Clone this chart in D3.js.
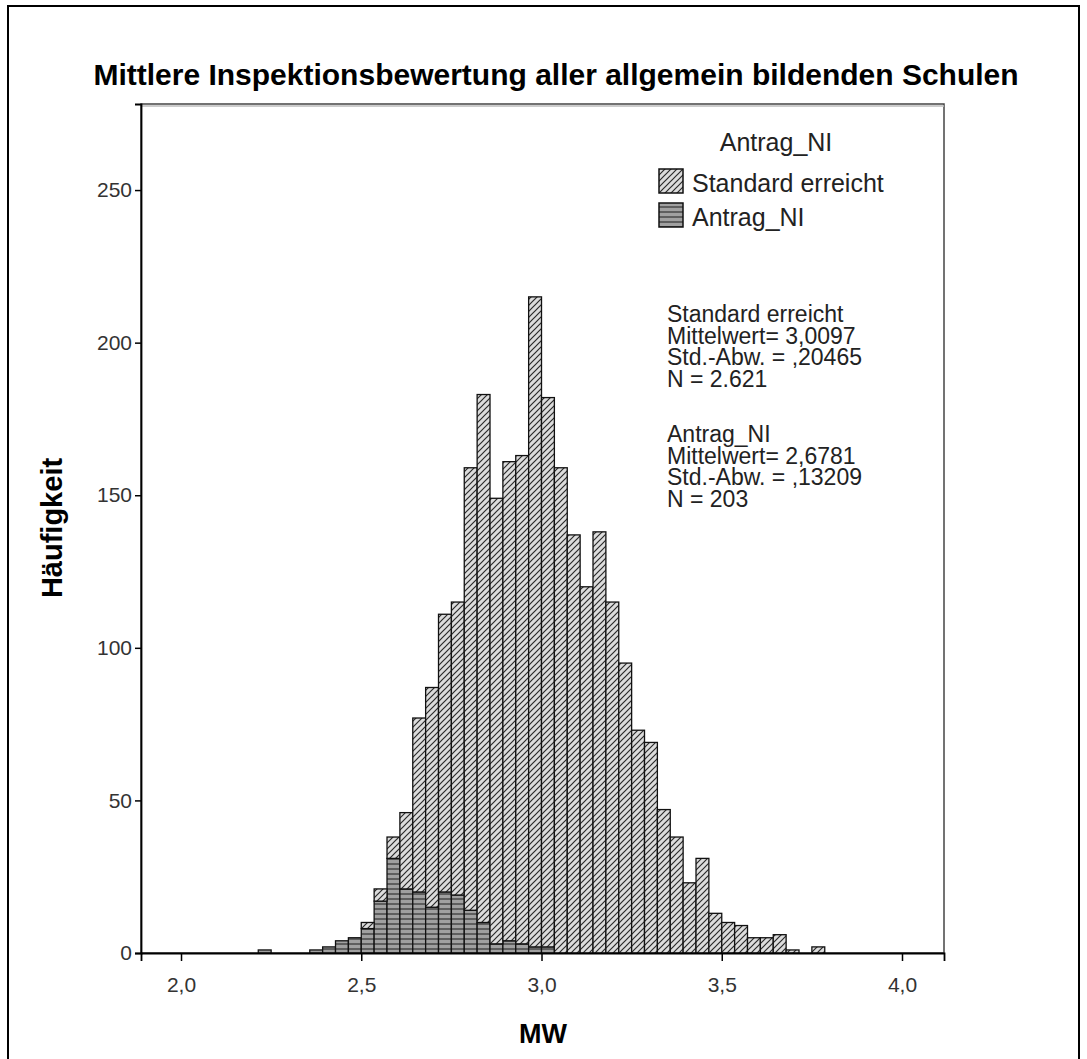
<!DOCTYPE html>
<html lang="de">
<head>
	<meta charset="utf-8">
	<title>Mittlere Inspektionsbewertung</title>
	<script src="https://d3js.org/d3.v7.min.js"></script>
	<style>
		body { margin: 0; background: #fff; }
		text { font-family: "Liberation Sans", Arial, sans-serif; }
	</style>
</head>
<body>
	<script>
		var w = 1087;
		var h = 1059;

		// bins: width 1/28, first bin starts at 2.5 - 8/28
		var binWidth = 1 / 28;
		var binFirst = 2.5 - 8 / 28;

		// counts per bin (stacked: Antrag_NI at bottom, Standard erreicht on top)
		var antragNI = [1, 0, 0, 0, 1, 2, 4, 5, 8, 17, 31, 21, 20, 15, 20, 19, 14, 10, 3, 4, 3, 2, 2, 0,
			0, 0, 0, 0, 0, 0, 0, 0, 0, 0, 0, 0, 0, 0, 0, 0, 0, 0, 0, 0];
		var standard = [0, 0, 0, 0, 0, 0, 0, 0, 2, 4, 7, 25, 57, 72, 91, 96, 145, 173, 146, 157, 160, 213, 180, 159,
			137, 120, 138, 115, 95, 73, 69, 47, 38, 23, 31, 13, 10, 9, 5, 5, 6, 1, 0, 2];

		var xTicks = [2.0, 2.5, 3.0, 3.5, 4.0];
		var yTicks = [0, 50, 100, 150, 200, 250];

		var legendTitle = "Antrag_NI";
		var legendLabels = ["Standard erreicht", "Antrag_NI"];
		var statsStandard = ["Standard erreicht", "Mittelwert= 3,0097", "Std.-Abw. = ,20465", "N = 2.621"];
		var statsAntrag = ["Antrag_NI", "Mittelwert= 2,6781", "Std.-Abw. = ,13209", "N = 203"];

		var plot = { left: 141, right: 944, top: 104, bottom: 953 };

		var x = d3.scaleLinear().domain([1.889, 4.1165]).range([plot.left, plot.right]);
		var y = d3.scaleLinear().domain([0, 278.2]).range([plot.bottom, plot.top]);

		var svg = d3.select("body")
					.append("svg")
					.attr("width", w)
					.attr("height", h);

		// patterns for the two groups
		var defs = svg.append("defs");
		var hatch = defs.append("pattern")
						.attr("id", "hatch")
						.attr("patternUnits", "userSpaceOnUse")
						.attr("width", 6).attr("height", 6);
		hatch.append("rect").attr("width", 6).attr("height", 6).attr("fill", "#dcdcdc");
		hatch.append("path")
			 .attr("d", "M0,6 L6,0 M-1,1 L1,-1 M5,7 L7,5")
			 .attr("stroke", "#2a2a2a").attr("stroke-width", 1.2);

		var stripes = defs.append("pattern")
						  .attr("id", "stripes")
						  .attr("patternUnits", "userSpaceOnUse")
						  .attr("width", 6).attr("height", 5);
		stripes.append("rect").attr("width", 6).attr("height", 5).attr("fill", "#a0a0a0");
		stripes.append("rect").attr("y", 3).attr("width", 6).attr("height", 2).attr("fill", "#5e5e5e");

		// outer border
		svg.append("rect")
		   .attr("x", 8).attr("y", 6).attr("width", 1071).attr("height", 1080)
		   .attr("fill", "none").attr("stroke", "#000").attr("stroke-width", 2);

		// title
		svg.append("text")
		   .attr("x", 556).attr("y", 85)
		   .attr("text-anchor", "middle")
		   .style("font-size", "30px").style("font-weight", "bold")
		   .text("Mittlere Inspektionsbewertung aller allgemein bildenden Schulen");

		// plot frame
		svg.append("rect")
		   .attr("x", plot.left).attr("y", plot.top)
		   .attr("width", plot.right - plot.left).attr("height", plot.bottom - plot.top)
		   .attr("fill", "#fff").attr("stroke", "#444").attr("stroke-width", 1.5);
		svg.append("line")
		   .attr("x1", plot.left).attr("x2", plot.right)
		   .attr("y1", plot.top + 2).attr("y2", plot.top + 2)
		   .attr("stroke", "#bbb").attr("stroke-width", 1.5);

		var bins = antragNI.map(function(d, i) {
			return { x0: binFirst + i * binWidth, x1: binFirst + (i + 1) * binWidth, a: d, s: standard[i] };
		});

		// Antrag_NI bars (bottom)
		svg.append("g").selectAll("rect")
		   .data(bins.filter(function(d) { return d.a > 0; }))
		   .enter()
		   .append("rect")
		   .attr("x", function(d) { return x(d.x0); })
		   .attr("width", function(d) { return x(d.x1) - x(d.x0); })
		   .attr("y", function(d) { return y(d.a); })
		   .attr("height", function(d) { return y(0) - y(d.a); })
		   .attr("fill", "url(#stripes)")
		   .attr("stroke", "#111").attr("stroke-width", 1.3);

		// Standard erreicht bars (stacked on top)
		svg.append("g").selectAll("rect")
		   .data(bins.filter(function(d) { return d.s > 0; }))
		   .enter()
		   .append("rect")
		   .attr("x", function(d) { return x(d.x0); })
		   .attr("width", function(d) { return x(d.x1) - x(d.x0); })
		   .attr("y", function(d) { return y(d.a + d.s); })
		   .attr("height", function(d) { return y(d.a) - y(d.a + d.s); })
		   .attr("fill", "url(#hatch)")
		   .attr("stroke", "#111").attr("stroke-width", 1.3);

		// axes
		var yAxis = svg.append("g")
					   .attr("transform", "translate(" + plot.left + ",0)")
					   .call(d3.axisLeft(y).tickValues(yTicks).tickSize(6).tickPadding(3));
		var xAxis = svg.append("g")
					   .attr("transform", "translate(0," + plot.bottom + ")")
					   .call(d3.axisBottom(x).tickValues(xTicks).tickSize(8).tickPadding(16)
					   .tickFormat(function(d) { return d.toFixed(1).replace(".", ","); }));

		[xAxis, yAxis].forEach(function(a) {
			a.select(".domain").attr("stroke", "#000").attr("stroke-width", 1.8);
			a.selectAll(".tick line").attr("stroke", "#000").attr("stroke-width", 1.5);
			a.selectAll(".tick text")
			 .attr("fill", "#333")
			 .style("font-size", "21px")
			 .style("font-family", "'Liberation Sans', Arial, sans-serif");
		});

		// axis titles
		svg.append("text")
		   .attr("x", 543).attr("y", 1043)
		   .attr("text-anchor", "middle")
		   .style("font-size", "27px").style("font-weight", "bold")
		   .text("MW");

		svg.append("text")
		   .attr("transform", "translate(62,528) rotate(-90)")
		   .attr("text-anchor", "middle")
		   .style("font-size", "29px").style("font-weight", "bold")
		   .text("Häufigkeit");

		// legend
		svg.append("text")
		   .attr("x", 776).attr("y", 151)
		   .attr("text-anchor", "middle")
		   .attr("fill", "#222")
		   .style("font-size", "25px")
		   .text(legendTitle);

		var legendFills = ["url(#hatch)", "url(#stripes)"];
		var legend = svg.append("g").selectAll("g")
						.data(legendLabels)
						.enter()
						.append("g")
						.attr("transform", function(d, i) { return "translate(659," + (169 + i * 34) + ")"; });
		legend.append("rect")
			  .attr("width", 24).attr("height", 24)
			  .attr("fill", function(d, i) { return legendFills[i]; })
			  .attr("stroke", "#111").attr("stroke-width", 1.5);
		legend.append("text")
			  .attr("x", 33).attr("y", 23)
			  .attr("fill", "#222")
			  .style("font-size", "25px")
			  .text(function(d) { return d; });

		// statistics blocks
		var statsBlock = function(lines, top) {
			svg.append("g").selectAll("text")
			   .data(lines)
			   .enter()
			   .append("text")
			   .attr("x", 667)
			   .attr("y", function(d, i) { return top + i * 21.7; })
			   .attr("fill", "#222")
			   .style("font-size", "23px")
			   .text(function(d) { return d; });
		};
		statsBlock(statsStandard, 322);
		statsBlock(statsAntrag, 442);
	</script>
</body>
</html>
